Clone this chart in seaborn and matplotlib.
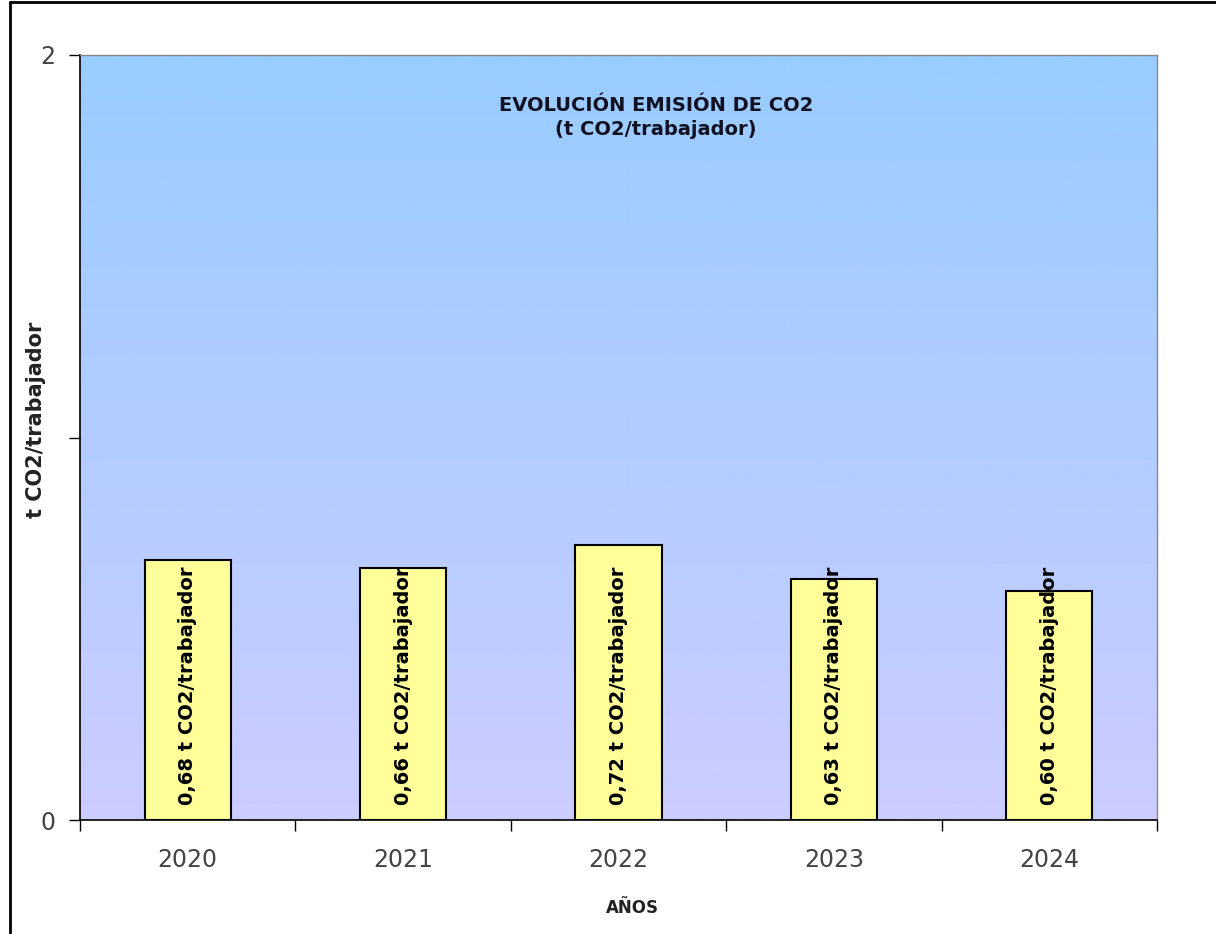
import matplotlib.pyplot as plt
import seaborn as sns
import pandas as pd
import numpy as np

# datos
years = ['2020', '2021', '2022', '2023', '2024']
valores = [0.68, 0.66, 0.72, 0.63, 0.60]
etiquetas = ['0,68', '0,66', '0,72', '0,63', '0,60']

df = pd.DataFrame({'Año': years, 'Valor': valores})

sns.set_style('white')
plt.rcParams['font.family'] = ['DejaVu Sans']

fig = plt.figure(figsize=(12.16, 9.34), dpi=100)
ax = fig.add_axes([80 / 1216, 1 - 820 / 934, 1077 / 1216, 765 / 934])

# fondo degradado azul -> lavanda
grad = np.linspace(0, 1, 256).reshape(-1, 1, 1)
top = np.array([153, 204, 255]) / 255
bot = np.array([204, 204, 255]) / 255
img = top + (bot - top) * grad
ax.imshow(img, extent=[-0.5, 4.5, 0, 2], aspect='auto', zorder=0)

sns.barplot(data=df, x='Año', y='Valor', color='#FFFF99', edgecolor='black',
            linewidth=1.5, width=0.4, saturation=1, ax=ax, zorder=2)

for p, et in zip(ax.patches, etiquetas):
    cx = p.get_x() + p.get_width() / 2
    ax.text(cx, 0.04, f'{et} t CO2/trabajador', rotation=90, ha='center', va='bottom',
            fontsize=14, fontweight='bold', color='black', zorder=3)

ax.set_xlim(-0.5, 4.5)
ax.set_ylim(0, 2)
ax.set_yticks([0, 1, 2])
ax.set_yticklabels(['0', '', '2'], fontsize=17, color='#444444')
ax.set_xticks(range(5))
ax.set_xticklabels(years, fontsize=17, color='#444444')
ax.set_xticks(np.arange(-0.5, 5, 1), minor=True)
ax.tick_params(axis='x', which='major', length=0, pad=20)
ax.tick_params(axis='x', which='minor', length=8, width=1, color='black', direction='out', bottom=True)
ax.tick_params(axis='y', length=8, width=1, color='black', direction='out', left=True, pad=10)

for s in ['left', 'bottom']:
    ax.spines[s].set_color('black')
    ax.spines[s].set_linewidth(1.2)
for s in ['top', 'right']:
    ax.spines[s].set_color('#888888')
    ax.spines[s].set_linewidth(1)

ax.set_xlabel('')
ax.set_ylabel('')
fig.text(632 / 1216, 1 - 908 / 934, 'AÑOS', ha='center', va='center',
         fontsize=12, fontweight='bold', color='#222222')
fig.text(36 / 1216, 1 - 420 / 934, 't CO2/trabajador', rotation=90, ha='center', va='center',
         fontsize=15, fontweight='bold', color='#222222')

ax.text(0.535, 0.918, 'EVOLUCIÓN EMISIÓN DE CO2\n(t CO2/trabajador)', transform=ax.transAxes,
        ha='center', va='center', fontsize=14, fontweight='bold', color='#111122',
        linespacing=1.3, zorder=4)

# marco exterior (arriba e izquierda)
fig.add_artist(plt.Line2D([10 / 1216, 10 / 1216], [0, 1 - 2 / 934], color='black', lw=2, transform=fig.transFigure))
fig.add_artist(plt.Line2D([10 / 1216, 1], [1 - 2 / 934, 1 - 2 / 934], color='black', lw=2, transform=fig.transFigure))

fig.savefig('out.png', dpi=100)
